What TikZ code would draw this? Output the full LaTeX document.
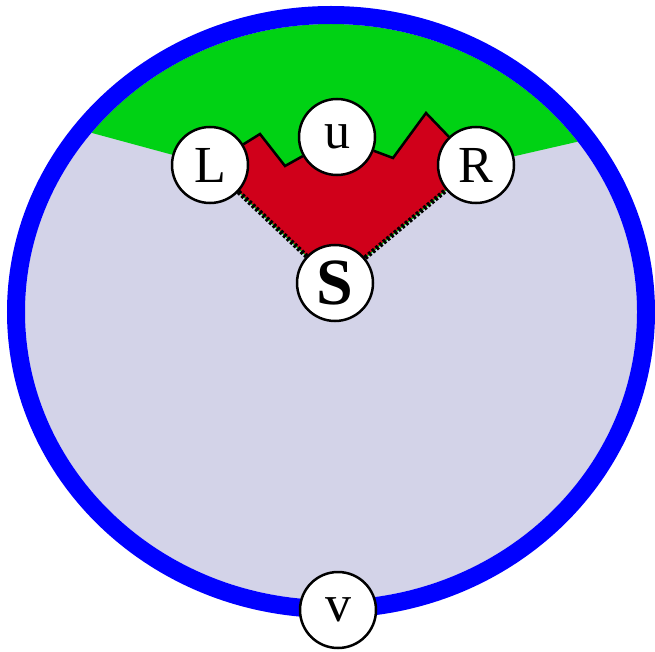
\documentclass[tikz,border=0pt]{standalone}
\usepackage{fontspec}
\setmainfont{Liberation Serif}
\usetikzlibrary{backgrounds}

\definecolor{capgreen}{RGB}{0,210,20}
\definecolor{regionred}{RGB}{208,0,26}
\definecolor{insidegray}{RGB}{211,211,232}

\begin{document}
\begin{tikzpicture}[x=1pt,y=-1pt,
  every node/.append style={font=\fontsize{52}{52}\selectfont},
  vtx/.style={circle,draw,line width=2.5pt,fill=white,minimum size=76pt,inner sep=0pt}]
  \useasboundingbox (0,0) rectangle (655,652);

  \node[vtx] (L) at (210,165) {L};
  \node[vtx] (u) at (337,137) {u};
  \node[vtx] (R) at (476,165) {R};
  \node[vtx,font=\bfseries\fontsize{66}{66}\selectfont] (S) at (335,283) {S};

  \coordinate (p1) at (260,134);
  \coordinate (v1) at (285,166);
  \coordinate (v2) at (393,158);
  \coordinate (p2) at (426,113);

  \begin{pgfonlayer}{background}
    \fill[insidegray] (331,312) ellipse [x radius=306pt, y radius=288pt];
    \begin{scope}
      \clip (331,312) ellipse [x radius=306pt, y radius=288pt];
      \fill[capgreen] (0,108) -- (L.center) -- (p1) -- (v1) -- (u.center) -- (v2) -- (p2)
        -- (R.center) -- (655,124) -- (655,0) -- (0,0) -- cycle;
    \end{scope}
    \fill[regionred] (L.center) -- (p1) -- (v1) -- (u.center) -- (v2) -- (p2)
      -- (R.center) -- (S.center) -- cycle;
    \draw[capgreen,line width=1pt] (L) -- (S) (S) -- (R);
    \draw[line width=5pt,dash pattern=on 2.8pt off 2pt] (L) -- (S) (S) -- (R);
    \draw[line width=2.5pt] (L) -- (p1) -- (v1) -- (u) -- (v2) -- (p2) -- (R);
  \end{pgfonlayer}

  \draw[blue,line width=18pt] (331,312) ellipse [x radius=315pt, y radius=297pt];
  \node[vtx] (v) at (338,610) {v};
\end{tikzpicture}
\end{document}
